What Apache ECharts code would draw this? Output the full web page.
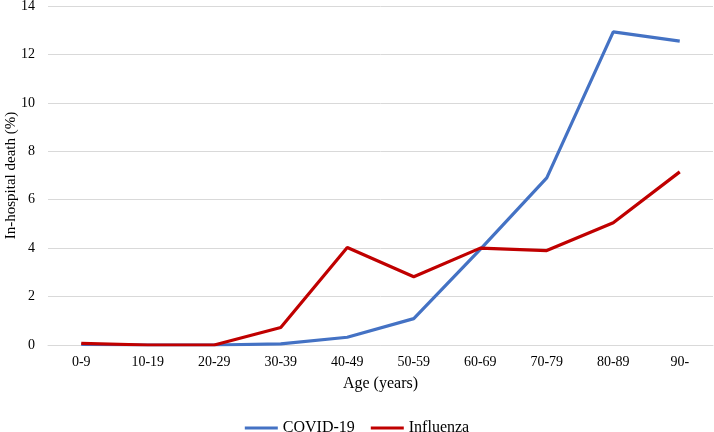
<!DOCTYPE html>
<html><head><meta charset="utf-8">
<script src="https://cdn.jsdelivr.net/npm/echarts@6/dist/echarts.min.js"></script>
<style>html,body{margin:0;padding:0;background:#fff}#c{width:714px;height:432px}</style>
</head><body><div id="c"></div>
<script>
const categories = ['0-9','10-19','20-29','30-39','40-49','50-59','60-69','70-79','80-89','90-'];
const covid = [0.02, 0, 0, 0.05, 0.32, 1.09, 3.95, 6.9, 12.93, 12.55];
const influenza = [0.07, 0, 0, 0.72, 4.03, 2.82, 4.0, 3.9, 5.05, 7.15];
const yTicks = [0, 2, 4, 6, 8, 10, 12, 14];
const font = 'Liberation Serif, Times New Roman, serif';
const chart = echarts.init(document.getElementById('c'));
chart.setOption({
  animation: false,
  textStyle: {fontFamily: font},
  grid: {left: 48, right: 1, top: 6, bottom: 87, containLabel: false, outerBoundsMode: 'none'},
  legend: {
    top: 415, left: 'center', itemWidth: 33, itemHeight: 3, itemGap: 16,
    icon: 'rect',
    textStyle: {fontFamily: font, fontSize: 16, color: '#000'},
    data: ['COVID-19', 'Influenza']
  },
  xAxis: {
    type: 'category', data: categories, boundaryGap: true,
    name: 'Age (years)', nameLocation: 'middle', nameGap: 31, nameMoveOverlap: false,
    nameTextStyle: {fontFamily: font, fontSize: 16, color: '#000', verticalAlign: 'top'},
    axisLine: {show: true, lineStyle: {color: '#d9d9d9', width: 1}},
    axisTick: {show: false},
    axisLabel: {fontFamily: font, fontSize: 14, color: '#000', margin: 10}
  },
  yAxis: {
    type: 'value', min: yTicks[0], max: yTicks[yTicks.length-1], interval: 2,
    name: 'In-hospital death (%)', nameLocation: 'middle', nameGap: 29, nameRotate: 90,
    nameMoveOverlap: false,
    nameTextStyle: {fontFamily: font, fontSize: 15, color: '#000'},
    axisLine: {show: false}, axisTick: {show: false},
    axisLabel: {fontFamily: font, fontSize: 14, color: '#000', margin: 13},
    splitLine: {lineStyle: {color: '#d9d9d9', width: 1}}
  },
  series: [
    {name: 'COVID-19', type: 'line', data: covid, symbol: 'none',
     lineStyle: {color: '#4472C4', width: 3.2}, itemStyle: {color: '#4472C4'}},
    {name: 'Influenza', type: 'line', data: influenza, symbol: 'none',
     lineStyle: {color: '#C00000', width: 3.2}, itemStyle: {color: '#C00000'}}
  ]
});
</script></body></html>
